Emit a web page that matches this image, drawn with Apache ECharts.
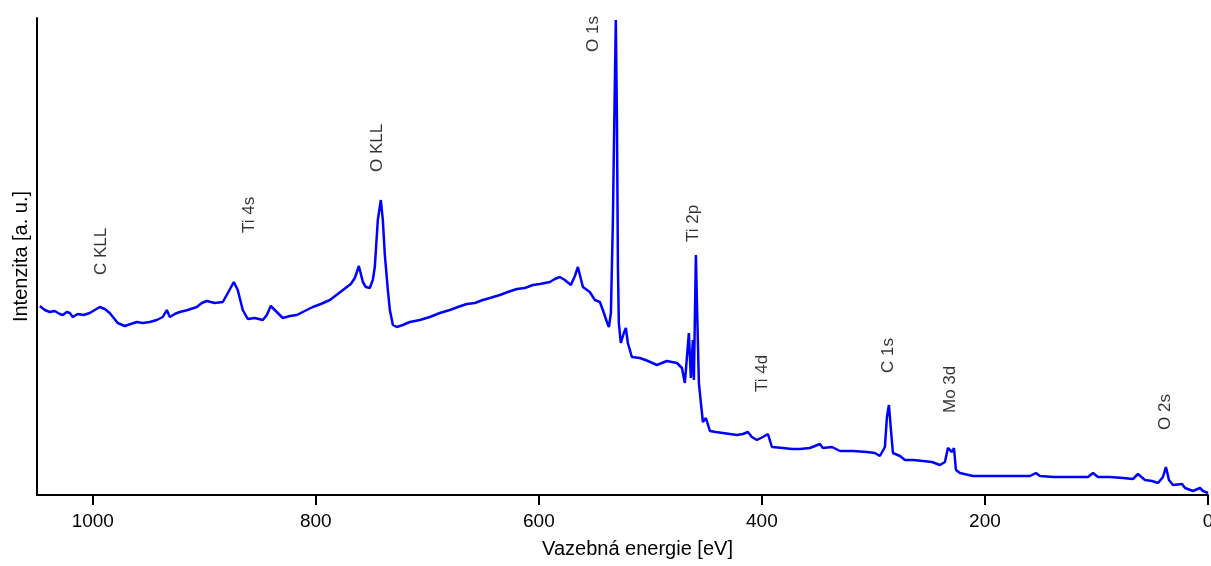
<!DOCTYPE html>
<html>
<head>
<meta charset="utf-8">
<script src="https://cdn.jsdelivr.net/npm/echarts@6/dist/echarts.min.js"></script>
<style>
html,body{margin:0;padding:0;background:#fff;overflow:hidden;}
#chart{width:1211px;height:566px;}
</style>
</head>
<body>
<div id="chart"></div>
<script>
// Binding energy [eV]
var energy = [1047.5,1043.0,1038.6,1034.1,1029.6,1026.9,1023.3,1020.6,1017.9,1013.5,1008.1,1002.7,998.2,993.7,989.2,984.8,981.2,977.6,971.3,965.9,960.5,955.2,948.9,942.6,937.2,933.6,930.9,926.5,922.0,914.8,906.7,902.2,897.8,890.6,883.4,878.9,873.5,870.0,865.5,861.0,854.7,847.5,843.9,840.4,835.0,829.6,823.3,817.0,809.9,802.7,795.5,787.4,780.3,772.2,768.6,765.0,761.4,757.8,755.2,751.6,748.9,747.1,744.4,741.7,739.9,738.1,735.4,733.6,730.9,727.4,722.0,715.7,706.7,697.8,688.8,679.8,672.6,664.6,657.4,650.2,643.9,635.0,627.8,619.7,612.6,605.4,599.1,590.1,585.7,581.2,576.7,571.3,567.7,565.0,560.5,554.3,549.8,545.3,542.6,539.0,537.2,535.4,533.6,532.7,531.0,530.0,529.1,528.3,526.5,523.8,522.0,520.2,516.6,509.4,502.2,494.2,485.2,480.7,476.2,471.7,469.1,465.5,463.7,461.9,461.0,459.2,458.3,456.5,454.7,452.9,450.2,446.6,441.3,435.0,428.7,422.4,417.0,412.6,409.0,404.5,399.1,394.6,391.0,381.2,373.1,365.9,357.0,348.0,345.3,337.2,330.0,318.4,305.8,298.7,294.2,289.7,287.9,286.1,284.3,282.5,276.2,271.7,264.6,255.6,247.5,240.4,235.9,233.2,229.6,227.8,226.0,222.4,210.8,198.2,186.5,173.1,159.6,154.3,150.7,138.1,126.5,114.8,107.6,103.1,98.7,87.9,76.2,67.3,62.8,56.5,50.2,44.8,40.4,37.7,35.0,31.4,23.3,20.6,13.5,7.2,4.5,0];
// Intensity [a. u.]
var intensity = [189,185,183,184,181,180,183,182,178,181,180,182,185,188,186,182,177,172,169,171,173,172,173,175,178,185,178,181,183,185,188,192,194,192,193,202,213,205,185,176,177,175,180,189,183,177,179,180,184,188,191,195,201,208,211,217,229,213,208,207,215,228,275,295,275,240,205,185,170,168,170,173,175,178,182,185,188,191,192,195,197,200,203,206,207,210,211,213,216,218,215,210,219,228,208,203,195,193,185,173,168,182,275,348,475,378,228,172,152,162,167,152,138,137,134,130,134,133,132,127,112,162,117,155,115,240,195,112,92,73,77,64,63,62,61,60,61,63,58,55,58,61,48,47,46,46,47,51,47,48,44,44,43,42,39,48,78,90,65,42,39,35,35,34,33,30,33,47,43,47,25,22,19,19,19,19,19,22,19,18,18,18,18,22,18,18,17,16,21,15,14,12,18,28,15,10,11,7,4,7,4,2];
// Peak annotations
var peakNames = ['C KLL','Ti 4s','O KLL','O 1s','Ti 2p','Ti 4d','C 1s','Mo 3d','O 2s'];
var peakEnergy = [991.9,859.2,745.3,551.6,461.9,400.0,287.0,231.4,38.6];
var peakLabelIntensity = [220,262,323,443,253,103,122,82,65];
// Axis ticks
var xTicks = [0,200,400,600,800,1000];

var spectrum = energy.map(function(e,i){return [e,intensity[i]];});
var labels = peakNames.map(function(n,i){return {name:n,value:[peakEnergy[i],peakLabelIntensity[i]]};});

var chart = echarts.init(document.getElementById('chart'), null, {renderer:'canvas'});
var fontFam = '"Liberation Sans", Arial, sans-serif';
chart.setOption({
  animation:false,
  backgroundColor:'#fff',
  grid:{left:37,right:3,top:18,bottom:71,containLabel:false,outerBoundsMode:'none'},
  xAxis:{
    type:'value', inverse:true, min:0, max:1050,
    name:'Vazebná energie [eV]', nameLocation:'middle', nameGap:44,
    nameTextStyle:{fontSize:20,color:'#000',fontFamily:fontFam,padding:[0,0,0,30]},
    axisLine:{show:true,onZero:false,lineStyle:{color:'#000',width:2}},
    axisTick:{show:true,inside:false,length:10,lineStyle:{color:'#000',width:2},customValues:xTicks},
    axisLabel:{show:true,fontSize:19,color:'#000',fontFamily:fontFam,margin:17,customValues:xTicks,
               formatter:function(v){return String(v);}},
    splitLine:{show:false}
  },
  yAxis:{
    type:'value', min:0, max:477,
    name:'Intenzita [a. u.]', nameLocation:'middle', nameGap:6, nameRotate:90,
    nameTextStyle:{fontSize:20,color:'#000',fontFamily:fontFam},
    axisLine:{show:true,onZero:false,lineStyle:{color:'#000',width:2}},
    axisTick:{show:false}, axisLabel:{show:false}, splitLine:{show:false}
  },
  series:[
    {type:'line', data:spectrum, showSymbol:false, symbol:'none', clip:false,
     lineStyle:{color:'#0000ff',width:2.5}, z:3},
    {type:'scatter', data:labels, symbolSize:0, itemStyle:{color:'#000'}, z:4, silent:true,
     emphasis:{disabled:true},
     label:{show:true, formatter:'{b}', position:[0,0], rotate:90, align:'left', verticalAlign:'middle',
            fontSize:17, color:'#000', textBorderWidth:0, fontFamily:fontFam}}
  ]
});
</script>
</body>
</html>
